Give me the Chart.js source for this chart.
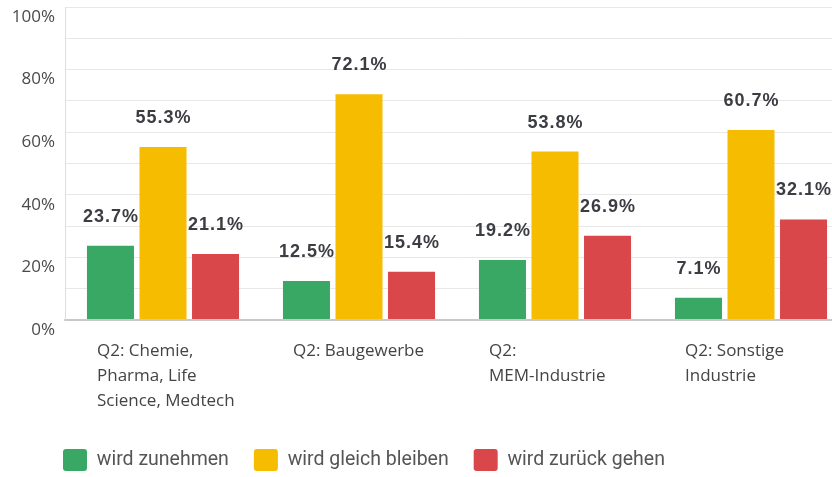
<!DOCTYPE html>
<html><head><meta charset="utf-8">
<script src="https://cdn.jsdelivr.net/npm/chart.js@4/dist/chart.umd.min.js"></script>
<style>
html,body{margin:0;padding:0;background:#fff;overflow:hidden;width:832px;height:477px;}
#wrap{position:relative;width:849px;height:481px;}
</style></head><body>
<div id="wrap"><canvas id="c"></canvas></div>
<script>
const categories = [["Q2: Chemie,","Pharma, Life","Science, Medtech"],["Q2: Baugewerbe"],["Q2:","MEM-Industrie"],["Q2: Sonstige","Industrie"]];
const seriesNames = ["wird zunehmen","wird gleich bleiben","wird zurück gehen"];
const zunehmen = [23.7,12.5,19.2,7.1];
const gleichBleiben = [55.3,72.1,53.8,60.7];
const zurueckGehen = [21.1,15.4,26.9,32.1];
const yTickLabels = [0,20,40,60,80,100];
const seriesColors = ['#3aa865','#f6bc00','#d9474a'];

const valueLabels = {
  id:'valueLabels',
  afterDatasetsDraw(chart){
    const ctx = chart.ctx; ctx.save();
    ctx.font = 'bold 18px "Liberation Sans", Arial, sans-serif';
    ctx.fillStyle = '#3b3d42'; ctx.textAlign = 'center'; ctx.textBaseline = 'middle';
    if ('letterSpacing' in ctx) ctx.letterSpacing = '1px';
    chart.data.datasets.forEach((ds,i)=>{
      chart.getDatasetMeta(i).data.forEach((bar,j)=>{
        ctx.fillText(ds.data[j].toFixed(1)+'%', bar.x + 0.5, bar.y - 29);
      });
    });
    ctx.restore();
  }
};
const legendShift = {
  id:'legendShift',
  afterLayout(chart){ if (chart.legend) { chart.legend.left += 38; } }
};

const seriesData = [zunehmen, gleichBleiben, zurueckGehen];
new Chart(document.getElementById('c'), {
  type:'bar',
  data:{
    labels: categories,
    datasets: seriesNames.map((n,i)=>({
      label:n, data:seriesData[i], backgroundColor:seriesColors[i], borderWidth:0,
      categoryPercentage:0.804, barPercentage:0.895
    }))
  },
  options:{
    responsive:true, maintainAspectRatio:false, animation:false, devicePixelRatio:1,
    layout:{padding:{left:0, top:7, right:0, bottom:0}},
    plugins:{
      tooltip:{enabled:false},
      legend:{
        position:'bottom', align:'start',
        labels:{boxWidth:24, boxHeight:22, padding:25, color:'#555',
          font:{family:'"Roboto", sans-serif', size:19.5},
          useBorderRadius:true, borderRadius:3}
      }
    },
    scales:{
      x:{
        grid:{display:false, drawTicks:false},
        border:{display:true, color:'#c8c8c8', width:2},
        ticks:{align:'start', labelOffset:-66, padding:19, maxRotation:0, autoSkip:false,
          color:'#444', font:{family:'"Open Sans", sans-serif', size:17, lineHeight:'25px'}},
        afterFit(s){ s.height = 104; s.paddingLeft = 0; s.paddingRight = 0; }
      },
      y:{
        min:0, max:100,
        grid:{drawTicks:false, color:(c)=> (c.tick && c.tick.value===0) ? '#c8c8c8' : '#e8e8e8',
              lineWidth:(c)=> (c.tick && c.tick.value===0) ? 2 : 1},
        border:{display:true, color:'#dedede', width:1},
        ticks:{stepSize:10, labelOffset:10, padding:10, color:'#4a4a4a',
          font:{family:'"Open Sans", sans-serif', size:17},
          callback:(v)=> yTickLabels.includes(v) ? v+'%' : ''},
        afterFit(s){ s.width = 65; s.paddingTop = 0; s.paddingBottom = 0; }
      }
    }
  },
  plugins:[valueLabels, legendShift]
});
</script>
</body></html>
